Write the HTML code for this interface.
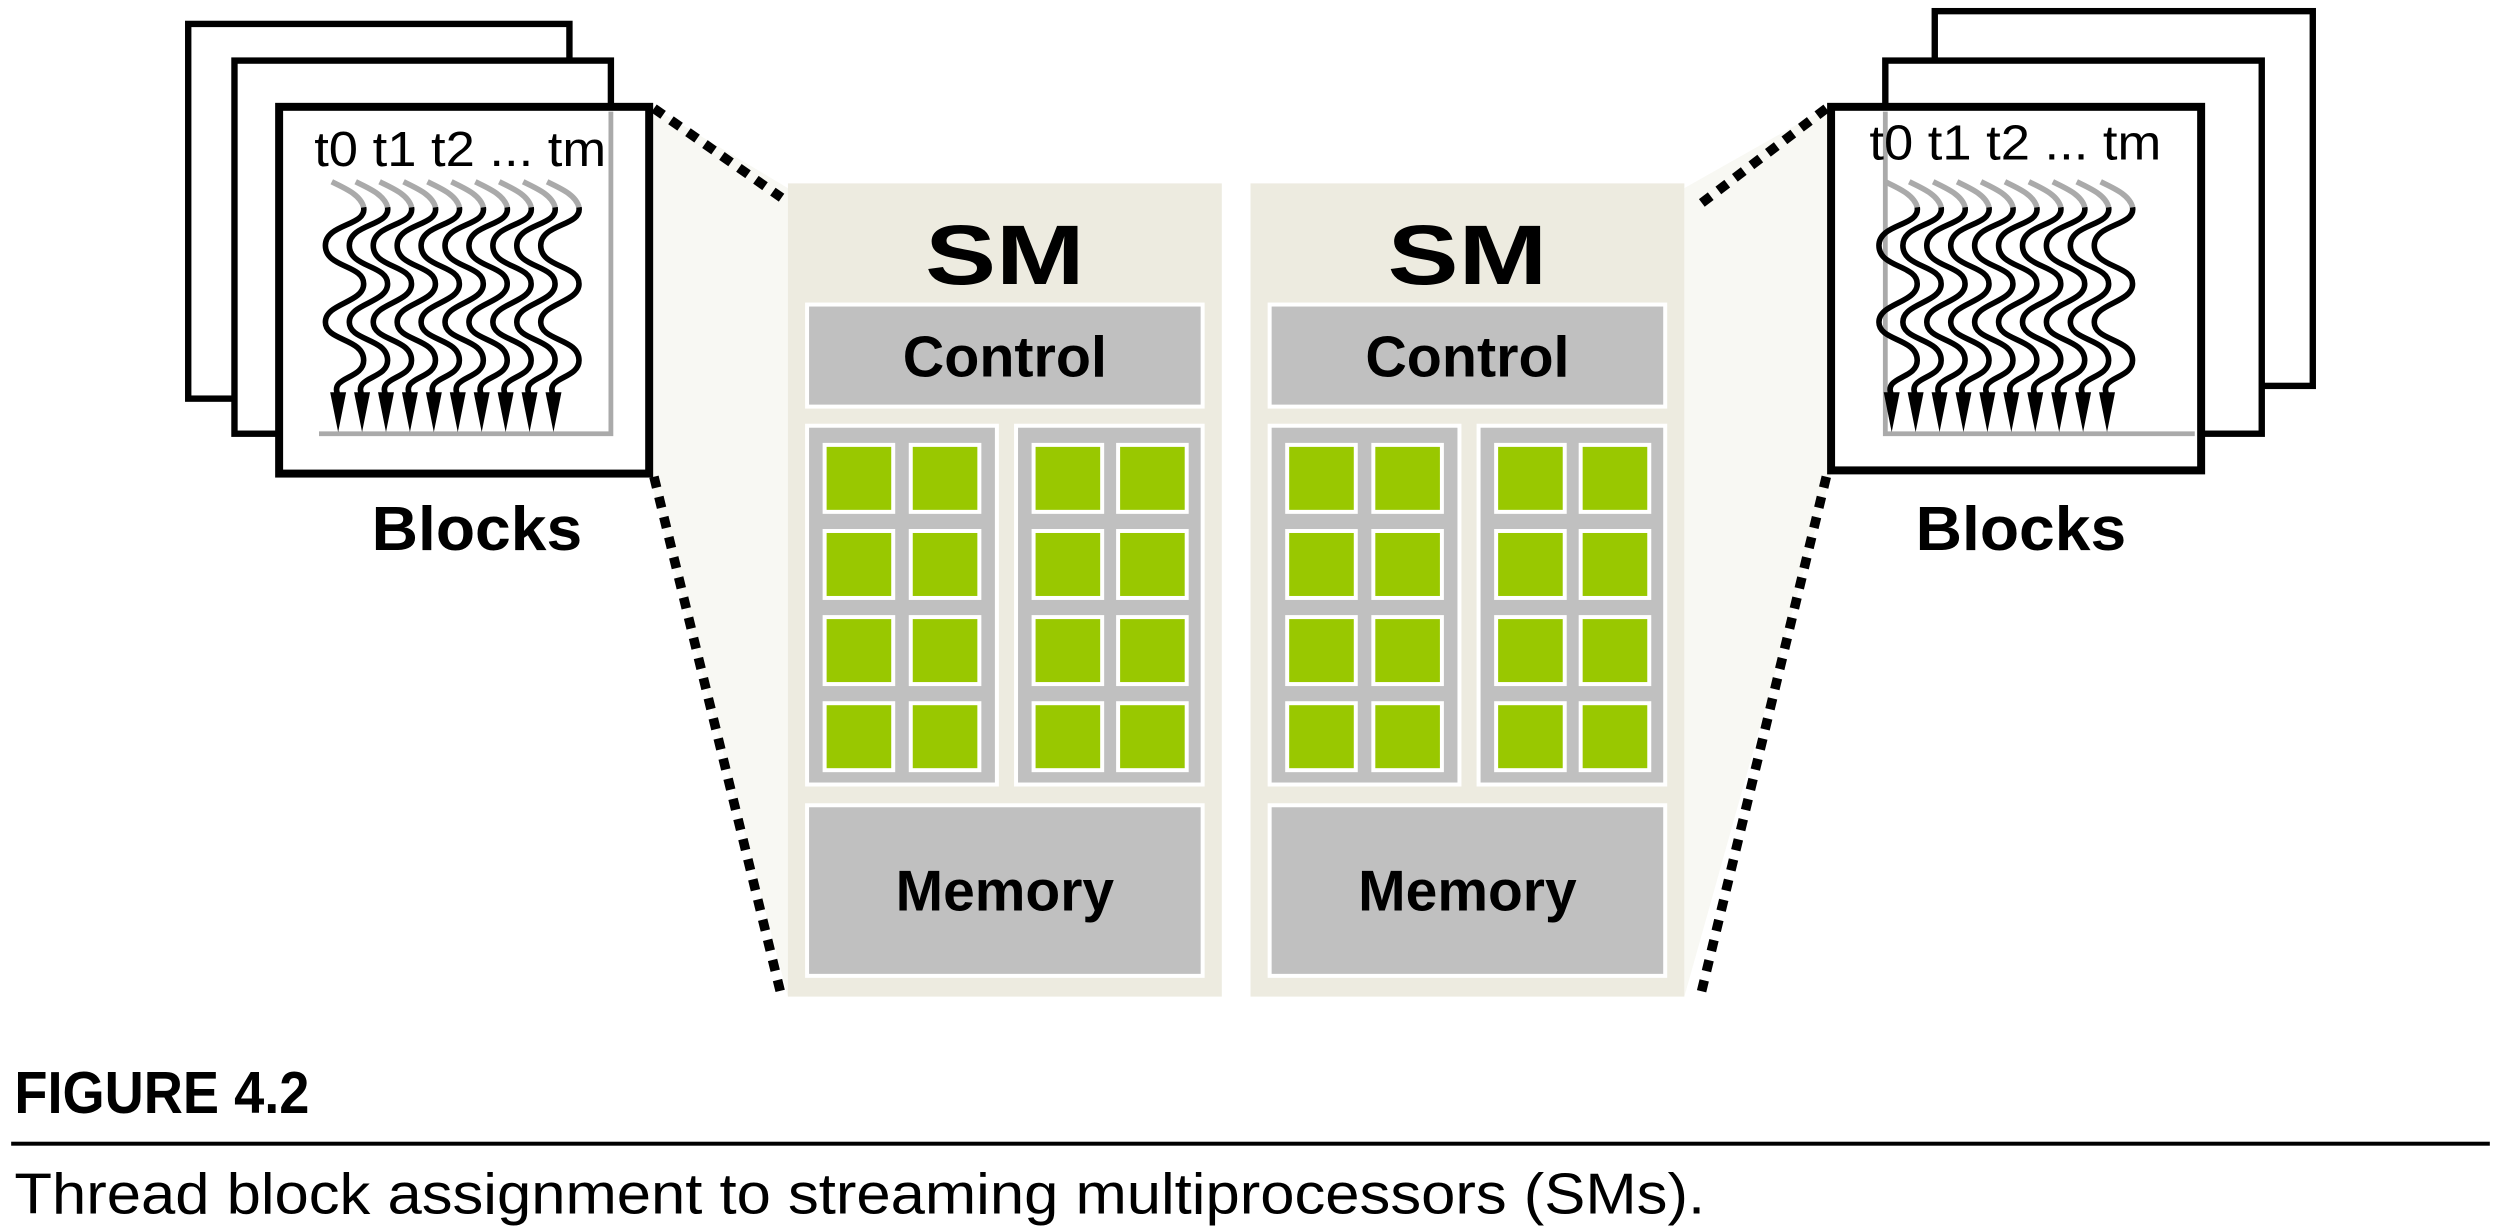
<!DOCTYPE html>
<html><head><meta charset="utf-8"><style>
html,body{margin:0;padding:0;background:#fff;}
svg{display:block;}
</style></head><body>
<svg width="2501" height="1231" viewBox="0 0 1568 772" preserveAspectRatio="none" xmlns="http://www.w3.org/2000/svg">
<defs>
<g id="thr">
<path d="M-8,0 C0,4 10,8 12,16" fill="none" stroke="#aaa" stroke-width="3.5"/>
<path d="M12,16 C14,28 -12,26 -12,40 C-12,54 12,52 12,64 C12,76 -12,76 -12,88 C-12,100 12,98 12,112 C12,124 -10,122 -4,134" fill="none" stroke="#000" stroke-width="3.5"/>
<polygon points="-9,132 1,132 -4,157" fill="#000"/>
</g>
<g id="blk">
<text x="0" y="0" font-family="Liberation Sans, sans-serif" font-size="31" textLength="183" lengthAdjust="spacingAndGlyphs">t0 t1 t2 ... tm</text>
</g>
<g id="sm">
<rect x="0" y="0" width="272" height="510" fill="#edebe0"/>
<text x="136" y="63" text-anchor="middle" font-family="Liberation Sans, sans-serif" font-weight="bold" font-size="53" textLength="100" lengthAdjust="spacingAndGlyphs">SM</text>
<rect x="12" y="76" width="248" height="64" fill="#c0c0c0" stroke="#fff" stroke-width="2.5"/>
<text x="136" y="121" text-anchor="middle" font-family="Liberation Sans, sans-serif" font-weight="bold" font-size="36" textLength="128" lengthAdjust="spacingAndGlyphs">Control</text>
<rect x="12" y="152" width="119" height="225" fill="#c0c0c0" stroke="#fff" stroke-width="2.5"/>
<rect x="143" y="152" width="117" height="225" fill="#c0c0c0" stroke="#fff" stroke-width="2.5"/>
<rect x="12" y="390" width="248" height="107" fill="#c0c0c0" stroke="#fff" stroke-width="2.5"/>
<text x="136" y="456" text-anchor="middle" font-family="Liberation Sans, sans-serif" font-weight="bold" font-size="36" textLength="137" lengthAdjust="spacingAndGlyphs">Memory</text>
<g fill="#99c800" stroke="#fff" stroke-width="2.5">
<rect x="23" y="164" width="43" height="42"/><rect x="77" y="164" width="43" height="42"/>
<rect x="23" y="218" width="43" height="42"/><rect x="77" y="218" width="43" height="42"/>
<rect x="23" y="272" width="43" height="42"/><rect x="77" y="272" width="43" height="42"/>
<rect x="23" y="326" width="43" height="42"/><rect x="77" y="326" width="43" height="42"/>
<rect x="154" y="164" width="43" height="42"/><rect x="207" y="164" width="43" height="42"/>
<rect x="154" y="218" width="43" height="42"/><rect x="207" y="218" width="43" height="42"/>
<rect x="154" y="272" width="43" height="42"/><rect x="207" y="272" width="43" height="42"/>
<rect x="154" y="326" width="43" height="42"/><rect x="207" y="326" width="43" height="42"/>
</g>
</g>
</defs>

<polygon points="407,66 494,118 494,625 407,297" fill="#f8f8f3"/>
<polygon points="1148,66 1056,118 1056,625 1148,297" fill="#f8f8f3"/>

<use href="#sm" x="494" y="115"/>
<use href="#sm" x="784" y="115"/>

<g stroke="#000" stroke-width="6" stroke-dasharray="7,6" fill="none">
<line x1="410" y1="68" x2="490" y2="124"/>
<line x1="410" y1="299" x2="490" y2="625"/>
<line x1="1145" y1="68" x2="1066" y2="128"/>
<line x1="1145" y1="299" x2="1066" y2="625"/>
</g>

<rect x="118" y="15" width="239" height="235" fill="#fff" stroke="#000" stroke-width="4"/>
<rect x="147" y="38" width="236" height="234" fill="#fff" stroke="#000" stroke-width="4"/>
<rect x="175" y="67" width="232" height="230" fill="#fff" stroke="#000" stroke-width="5"/>
<polyline points="200,272 383,272 383,70" fill="none" stroke="#aaa" stroke-width="3"/>
<use href="#blk" x="197" y="104"/>
<g>
<use href="#thr" x="216" y="114"/><use href="#thr" x="231" y="114"/><use href="#thr" x="246" y="114"/>
<use href="#thr" x="261" y="114"/><use href="#thr" x="276" y="114"/><use href="#thr" x="291" y="114"/>
<use href="#thr" x="306" y="114"/><use href="#thr" x="321" y="114"/><use href="#thr" x="336" y="114"/>
<use href="#thr" x="351" y="114"/>
</g>
<text x="299" y="345" text-anchor="middle" font-family="Liberation Sans, sans-serif" font-weight="bold" font-size="39" textLength="132" lengthAdjust="spacingAndGlyphs">Blocks</text>

<rect x="1213" y="7" width="237" height="235" fill="#fff" stroke="#000" stroke-width="4"/>
<rect x="1182" y="38" width="236" height="234" fill="#fff" stroke="#000" stroke-width="4"/>
<rect x="1148" y="67" width="232" height="228" fill="#fff" stroke="#000" stroke-width="5"/>
<polyline points="1182,70 1182,272 1376,272" fill="none" stroke="#aaa" stroke-width="3"/>
<use href="#blk" x="1172" y="100"/>
<g>
<use href="#thr" x="1190" y="114"/><use href="#thr" x="1205" y="114"/><use href="#thr" x="1220" y="114"/>
<use href="#thr" x="1235" y="114"/><use href="#thr" x="1250" y="114"/><use href="#thr" x="1265" y="114"/>
<use href="#thr" x="1280" y="114"/><use href="#thr" x="1295" y="114"/><use href="#thr" x="1310" y="114"/>
<use href="#thr" x="1325" y="114"/>
</g>
<text x="1267" y="345" text-anchor="middle" font-family="Liberation Sans, sans-serif" font-weight="bold" font-size="39" textLength="132" lengthAdjust="spacingAndGlyphs">Blocks</text>

<text x="9" y="698" font-family="Liberation Sans, sans-serif" font-weight="bold" font-size="37" textLength="185" lengthAdjust="spacingAndGlyphs">FIGURE 4.2</text>
<rect x="7" y="716" width="1554" height="2.5" fill="#000"/>
<text x="9" y="761" font-family="Liberation Sans, sans-serif" font-size="36" textLength="1060" lengthAdjust="spacingAndGlyphs">Thread block assignment to streaming multiprocessors (SMs).</text>
</svg>
</body></html>
